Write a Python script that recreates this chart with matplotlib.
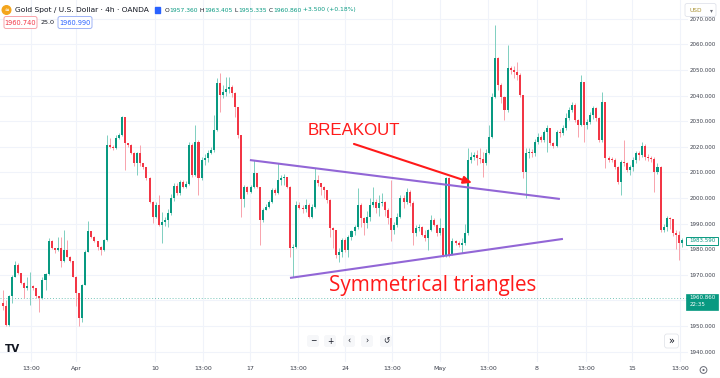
import matplotlib
matplotlib.use('Agg')
import matplotlib.pyplot as plt
from matplotlib.patches import FancyBboxPatch, Circle, Rectangle
import numpy as np

# ---------------- data (4h candles) ----------------
first_open = 1959.1
closes = [1957.8, 1950.4, 1961.5, 1969.3, 1973.8, 1970.6, 1966.7, 1964.7, 1965.4, 1965.6,
          1964.7, 1961.5, 1960.8, 1968.0, 1970.3, 1983.0, 1980.4, 1979.7, 1980.4, 1975.2,
          1979.7, 1977.1, 1975.2, 1969.3, 1962.8, 1953.0, 1966.0, 1979.0, 1986.9, 1984.9,
          1983.0, 1981.0, 1979.7, 1983.6, 2020.7, 2020.0, 2019.4, 2023.3, 2024.6, 2031.5,
          2021.4, 2020.7, 2017.5, 2013.6, 2017.5, 2013.5, 2012.0, 2007.7, 1998.6, 1992.7,
          1997.3, 1989.4, 1990.7, 1991.4, 1994.0, 1999.9, 2004.7, 2001.8, 2006.4, 2004.4,
          2005.4, 2020.7, 2009.0, 2022.0, 2007.7, 2014.8, 2015.5, 2017.5, 2018.7, 2026.6,
          2045.0, 2040.2, 2041.5, 2042.5, 2043.5, 2041.0, 2035.7, 2024.6, 1999.5, 2004.4,
          2002.2, 2004.4, 2009.6, 2004.4, 1991.4, 1995.3, 1996.6, 1998.6, 2003.1, 2001.8,
          2007.0, 2007.7, 2008.0, 2004.4, 1980.3, 1981.0, 1997.3, 1996.0, 1995.5, 1997.3,
          1992.7, 1996.6, 2007.0, 2005.7, 2004.4, 2003.1, 1999.2, 1988.2, 1987.5, 1977.8,
          1979.0, 1983.6, 1979.7, 1984.9, 1986.9, 1988.8, 1997.3, 1992.0, 1990.1, 1992.7,
          1997.3, 1998.6, 1995.9, 1997.9, 1998.6, 1995.3, 1992.0, 1987.5, 1989.4, 1992.7,
          1999.9, 1998.6, 2002.5, 1997.9, 1986.2, 1988.2, 1988.8, 1985.6, 1984.3, 1987.5,
          1991.4, 1989.5, 1986.2, 1988.2, 1977.8, 2007.7, 1977.8, 1983.0, 1982.3, 1981.7,
          1982.3, 1986.2, 2014.9, 2016.0, 2016.8, 2015.8, 2015.2, 2013.6, 2017.4, 2024.0,
          2039.6, 2054.6, 2044.2, 2039.6, 2034.4, 2050.7, 2050.0, 2049.3, 2048.1, 2040.3,
          2010.3, 2017.4, 2018.1, 2017.4, 2022.0, 2024.0, 2022.7, 2025.9, 2027.2, 2021.3,
          2020.1, 2025.9, 2025.3, 2027.2, 2031.1, 2034.4, 2036.3, 2030.5, 2028.5, 2045.4,
          2028.5, 2029.8, 2032.4, 2035.0, 2031.1, 2022.7, 2037.6, 2015.5, 2015.0, 2014.8,
          2012.2, 2006.4, 2014.2, 2013.5, 2011.0, 2012.2, 2014.8, 2017.4, 2016.8, 2020.3,
          2016.1, 2015.5, 2015.2, 2010.3, 2012.2, 1987.5, 1988.8, 1992.1, 1991.6, 1986.2,
          1985.5, 1982.3, 1983.6]
highs = [1964.1, 1960.2, 1962.0, 1969.8, 1975.2, 1974.5, 1970.8, 1967.0, 1969.3, 1971.2,
         1965.8, 1965.0, 1961.8, 1969.3, 1970.8, 1984.3, 1983.4, 1980.6, 1984.9, 1984.9,
         1987.5, 1983.6, 1977.3, 1975.5, 1969.5, 1963.0, 1966.5, 1979.5, 1990.8, 1987.2,
         1985.2, 1983.2, 1981.3, 1984.0, 2024.6, 2023.3, 2020.8, 2024.6, 2025.5, 2032.0,
         2031.8, 2021.6, 2021.0, 2018.0, 2018.0, 2020.7, 2013.5, 2012.2, 2008.0, 1999.0,
         1998.5, 2001.2, 1994.5, 1992.7, 1995.5, 2001.5, 2005.8, 2006.0, 2007.0, 2007.0,
         2006.5, 2022.0, 2021.5, 2028.5, 2022.5, 2016.0, 2017.0, 2018.7, 2020.0, 2032.5,
         2047.0, 2048.7, 2044.0, 2047.4, 2047.4, 2044.0, 2041.5, 2035.7, 2024.6, 2005.0,
         2004.8, 2005.0, 2014.8, 2009.8, 2004.4, 1996.0, 1997.5, 1999.3, 2004.0, 2004.0,
         2013.5, 2009.0, 2009.5, 2008.3, 2004.5, 1982.0, 1999.0, 1998.6, 1997.2, 1999.5,
         1998.0, 1997.5, 2011.6, 2009.0, 2006.0, 2004.5, 2003.2, 1999.5, 1988.8, 1987.5,
         1980.5, 1984.5, 1984.3, 1985.5, 1987.5, 1989.5, 2003.8, 1998.0, 1992.5, 1995.0,
         1999.9, 2004.4, 1999.5, 2001.0, 2002.0, 1999.0, 1996.0, 2007.0, 1990.5, 1994.0,
         2001.0, 2001.0, 2004.0, 2003.0, 1999.0, 1989.5, 1990.0, 1989.0, 1987.5, 1988.0,
         1993.4, 1992.0, 1990.0, 1992.0, 1988.0, 2008.3, 2008.3, 1984.3, 1983.6, 1983.0,
         1984.5, 1990.0, 2019.4, 2018.1, 2018.0, 2018.7, 2019.4, 2018.1, 2019.0, 2028.5,
         2041.0, 2067.6, 2055.0, 2045.0, 2040.0, 2059.8, 2051.5, 2051.5, 2053.2, 2048.7,
         2040.3, 2019.4, 2019.4, 2019.0, 2023.0, 2025.5, 2024.5, 2026.6, 2028.5, 2027.5,
         2022.0, 2026.5, 2027.0, 2028.5, 2033.0, 2035.5, 2037.5, 2037.0, 2031.0, 2048.0,
         2045.4, 2031.0, 2033.5, 2036.0, 2035.5, 2031.5, 2041.5, 2037.6, 2016.5, 2016.0,
         2015.5, 2012.5, 2015.0, 2022.7, 2014.0, 2013.0, 2016.0, 2018.5, 2018.5, 2022.0,
         2021.0, 2017.0, 2016.5, 2016.0, 2013.5, 2012.5, 1990.0, 1993.0, 1992.5, 1991.8,
         1987.5, 1987.0, 1984.5]
lows = [1956.3, 1949.8, 1950.0, 1959.1, 1969.0, 1970.3, 1966.3, 1960.8, 1964.1, 1958.3,
        1964.2, 1961.0, 1955.6, 1960.5, 1964.1, 1970.0, 1980.0, 1978.4, 1979.4, 1973.2,
        1975.0, 1976.8, 1974.8, 1969.0, 1957.6, 1949.8, 1951.5, 1965.8, 1978.8, 1984.5,
        1982.7, 1979.7, 1977.8, 1979.4, 1983.3, 2019.5, 2018.8, 2019.0, 2023.0, 2024.3,
        2011.0, 2019.8, 2017.0, 2012.3, 2009.0, 2012.5, 2011.5, 2007.0, 1998.0, 1990.1,
        1992.0, 1989.0, 1982.3, 1989.0, 1988.8, 1993.5, 1999.0, 2001.0, 2001.0, 2004.0,
        2004.0, 2005.0, 2008.0, 2008.5, 2001.2, 2007.0, 2013.0, 2014.0, 2017.0, 2018.0,
        2026.0, 2033.7, 2039.0, 2040.0, 2041.0, 2039.5, 2031.8, 2023.5, 1992.7, 1996.6,
        2001.5, 2001.8, 2004.0, 2003.8, 1981.6, 1990.5, 1995.5, 1996.0, 1998.0, 2001.0,
        2001.5, 2005.0, 2005.0, 2003.8, 1977.1, 1969.3, 1980.5, 1995.5, 1994.0, 1994.7,
        1992.0, 1992.0, 1996.0, 2004.8, 2001.2, 1999.9, 1998.0, 1984.9, 1980.3, 1976.4,
        1975.1, 1977.0, 1979.0, 1977.1, 1983.5, 1985.5, 1988.0, 1988.8, 1985.5, 1988.2,
        1991.0, 1996.5, 1994.0, 1993.0, 1997.0, 1993.0, 1990.0, 1983.0, 1986.0, 1988.5,
        1992.0, 1996.0, 1997.5, 1997.0, 1981.7, 1985.0, 1987.0, 1985.0, 1983.0, 1979.7,
        1987.0, 1989.0, 1985.0, 1985.5, 1977.1, 1976.9, 1977.1, 1981.0, 1981.5, 1981.0,
        1978.4, 1981.7, 1985.5, 2013.6, 2014.9, 2013.0, 2013.6, 2008.3, 2013.0, 2017.0,
        2023.5, 2039.0, 2042.0, 2037.0, 2030.5, 2033.5, 2048.5, 2046.8, 2046.0, 2039.6,
        2007.7, 1999.9, 2015.5, 2016.0, 2016.5, 2021.0, 2022.0, 2022.0, 2018.1, 2020.5,
        2019.5, 2019.8, 2024.0, 2024.5, 2026.5, 2030.5, 2033.5, 2029.5, 2024.0, 2028.0,
        2022.0, 2027.0, 2029.0, 2031.0, 2030.0, 2022.0, 2022.0, 2011.6, 2014.0, 2014.0,
        2011.5, 2005.5, 2001.2, 2012.5, 2010.0, 2009.0, 2010.5, 2013.5, 2015.0, 2016.0,
        2015.0, 2014.5, 2014.0, 2002.5, 2009.5, 1986.5, 1986.5, 1987.0, 1988.0, 1985.0,
        1980.0, 1975.8, 1981.0]

price_ticks = [1940, 1950, 1960, 1970, 1980, 1990, 2000, 2010, 2020, 2030, 2040, 2050, 2060, 2070]
time_labels = ['13:00', 'Apr', '10', '13:00', '17', '13:00', '24', '13:00', 'May', '13:00', '8', '13:00', '15', '13:00']
time_label_bars = [9.3, 24.0, 49.8, 65.5, 80.8, 96.5, 111.9, 127.2, 142.9, 158.6, 174.6, 190.6, 205.7, 221.4]
last_price = 1960.860
marker_price = 1983.590

GREEN = '#089981'
RED = '#F23645'

# ---------------- figure ----------------
W, H = 720, 378
fig = plt.figure(figsize=(W / 100, H / 100), dpi=100)
fig.patch.set_facecolor('white')

ax = fig.add_axes([0, 16 / H, 688 / W, 362 / H])
ax.set_facecolor('white')

opens = [first_open] + closes[:-1]
idx = np.arange(len(closes))
o = np.array(opens); c = np.array(closes)
h = np.maximum(np.array(highs), np.maximum(o, c))
l = np.minimum(np.array(lows), np.minimum(o, c))
up = c >= o
body_col = np.where(up, GREEN, RED)
wick_col = np.where(up, '#7fcfc0', '#f8a3ac')

ax.vlines(idx, l, h, colors=wick_col, linewidth=0.7, zorder=3)
body_h = np.maximum(np.abs(c - o), 0.35)
ax.bar(idx, body_h, bottom=np.minimum(o, c), width=0.66, color=body_col, linewidth=0, zorder=4)

ax.set_xlim(-0.87, 223.97)
ax.set_ylim(1935.9, 2077.34)

# grid
for p in price_ticks:
    ax.axhline(p, color='#f0f3fa', lw=0.8, zorder=0)
for b in time_label_bars:
    ax.axvline(b, color='#f0f3fa', lw=0.8, zorder=0)

ax.axhline(last_price, color=GREEN, lw=0.7, ls=(0, (1, 2)), alpha=0.55, zorder=2)

# axes ticks (the 1960 label is hidden behind the last-price tag, as in TradingView)
ax.yaxis.tick_right()
ax.set_yticks(price_ticks)
ax.set_yticklabels(['' if p == 1960 else f'{p:.3f}' for p in price_ticks])
ax.tick_params(axis='y', length=0, pad=1.0, labelsize=4.0, labelcolor='#3a3e4a')
ax.set_xticks(time_label_bars)
ax.set_xticklabels(time_labels)
ax.tick_params(axis='x', length=0, pad=3, labelsize=4.5, labelcolor='#3a3e4a')
for s in ax.spines.values():
    s.set_visible(False)

# triangle lines
PURPLE = '#9266d6'
ax.plot([80.8, 182.1], [2014.8, 1999.6], color=PURPLE, lw=1.5, zorder=6, solid_capstyle='butt')
ax.plot([93.9, 183.1], [1968.75, 1984.0], color=PURPLE, lw=1.5, zorder=6, solid_capstyle='butt')

# breakout arrow
ax.annotate('', xy=(153.4, 2005.9), xytext=(114.8, 2021.1),
            arrowprops=dict(arrowstyle='-|>,head_length=0.5,head_width=0.22', color='#ff1a1a', lw=1.5,
                            shrinkA=0, shrinkB=0), zorder=7)
ax.text(99.5, 2026.2, 'BREAKOUT', color='#ff1a1a', fontsize=12.2, family='Liberation Sans',
        va='center', ha='left', zorder=7)
ax.text(106.6, 1965.6, 'Symmetrical triangles', color='#ff1a1a', fontsize=14.9, family='Open Sans',
        va='center', ha='left', zorder=7)

# ---------------- overlay in pixel coordinates ----------------
ov = fig.add_axes([0, 0, 1, 1], zorder=10)
ov.set_xlim(0, W); ov.set_ylim(H, 0); ov.axis('off'); ov.patch.set_alpha(0)

# header
ov.add_patch(Circle((6.5, 10), 4.3, color='#f4a51c'))
ov.text(6.5, 10.3, '≈', color='white', fontsize=4, ha='center', va='center', fontweight='bold')
ov.text(15, 10, 'Gold Spot / U.S. Dollar · 4h · OANDA', fontsize=5.4, color='#131722', va='center', ha='left')
ov.add_patch(Rectangle((155, 6.5), 5, 6, color='#2962ff'))
hdr = [('O', '#131722'), ('1957.360', GREEN), (' H', '#131722'), ('1963.405', GREEN),
       (' L', '#131722'), ('1955.335', GREEN), (' C', '#131722'), ('1960.860', GREEN),
       (' +3.500 (+0.18%)', GREEN)]
fig.canvas.draw()
r = fig.canvas.get_renderer()
xpos = 165
for txt, col in hdr:
    t = ov.text(xpos, 10, txt, fontsize=4.3, color=col, va='center', ha='left')
    bb = t.get_window_extent(renderer=r)
    xpos += bb.width

# second row boxes
ov.add_patch(FancyBboxPatch((4, 16.5), 33, 12, boxstyle='round,pad=0,rounding_size=2',
                            fc='white', ec='#f7a3aa', lw=0.7))
ov.text(20.5, 22.7, '1960.740', fontsize=4.8, color='#f23645', ha='center', va='center')
ov.text(47.5, 22.5, '25.0', fontsize=4.6, color='#131722', ha='center', va='center')
ov.add_patch(FancyBboxPatch((58, 16.5), 34, 12, boxstyle='round,pad=0,rounding_size=2',
                            fc='white', ec='#9fb3f6', lw=0.7))
ov.text(75, 22.7, '1960.990', fontsize=4.8, color='#2962ff', ha='center', va='center')

# USD box
ov.add_patch(FancyBboxPatch((685, 3.5), 31, 13, boxstyle='round,pad=0,rounding_size=2',
                            fc='white', ec='#e0e3eb', lw=0.6))
ov.text(689, 10.2, 'USD', fontsize=4.2, color='#a8902f', ha='left', va='center')
ov.text(711, 10.2, '▾', fontsize=4.2, color='#6a6d78', ha='center', va='center')

# price tags on the scale
ov.add_patch(Rectangle((686, 236.5), 32, 8, fc='white', ec=GREEN, lw=0.7))
ov.text(702, 240.6, '1983.590', fontsize=4.0, color=GREEN, ha='center', va='center')
ov.add_patch(Rectangle((686, 293.5), 32, 16, fc=GREEN, ec=GREEN, lw=0.5))
ov.text(702, 297.9, '1960.860', fontsize=4.0, color='white', ha='center', va='center')
ov.text(689.5, 305.0, '22:35', fontsize=4.0, color='white', ha='left', va='center')

# bottom navigation
for xb, sym in [(313, '−'), (330, '+'), (349, '‹'), (367, '›'), (386, '↺')]:
    ov.add_patch(FancyBboxPatch((xb - 6, 335), 12, 12, boxstyle='round,pad=0,rounding_size=2.5',
                                fc='#f6f7f9', ec='none'))
    ov.text(xb, 341, sym, fontsize=5.5, color='#131722', ha='center', va='center')
ov.add_patch(FancyBboxPatch((664.5, 334), 14, 14, boxstyle='round,pad=0,rounding_size=2.5',
                            fc='white', ec='#e3e5ea', lw=0.6))
ov.text(671.5, 341, '»', fontsize=7, color='#131722', ha='center', va='center')
ov.text(12.5, 349, 'TV', fontsize=7.5, color='#131722', ha='center', va='center', fontweight='bold')
ov.add_patch(Circle((703.5, 370), 3.4, fc='white', ec='#6a6d78', lw=0.7))
ov.add_patch(Circle((703.5, 370), 1.1, fc='#6a6d78', ec='none'))
ov.plot([0, W], [377.5, 377.5], color='#e0e3eb', lw=0.8)

fig.savefig('out.png', dpi=100, facecolor='white')
